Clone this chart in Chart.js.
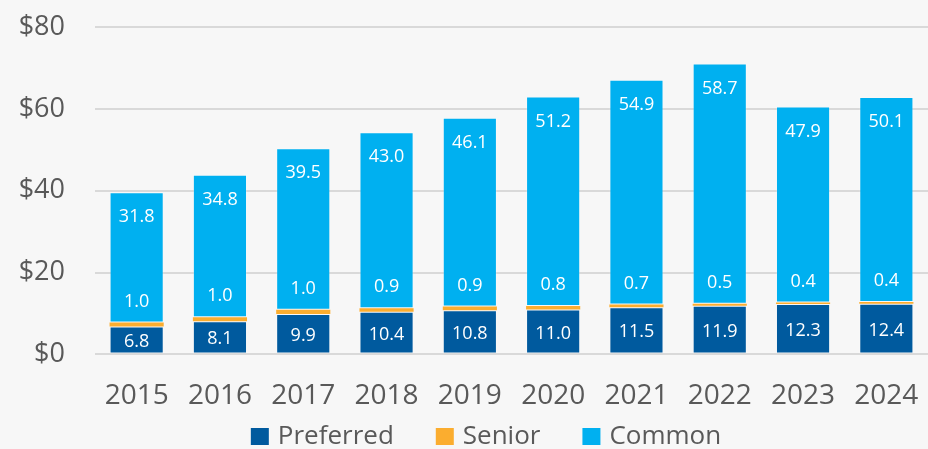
<!DOCTYPE html>
<html>
<head>
<meta charset="utf-8">
<script src="https://cdn.jsdelivr.net/npm/chart.js@4"></script>
<style>
  html, body { margin: 0; padding: 0; background: #f7f7f7; }
  #wrap { width: 928px; height: 449px; }
</style>
</head>
<body>
<div id="wrap"><canvas id="capChart"></canvas></div>
<script>
/* Capital stack by year */
const years = ['2015', '2016', '2017', '2018', '2019', '2020', '2021', '2022', '2023', '2024'];
const preferred = [6.8, 8.1, 9.9, 10.4, 10.8, 11.0, 11.5, 11.9, 12.3, 12.4];
const senior = [1.0, 1.0, 1.0, 0.9, 0.9, 0.8, 0.7, 0.5, 0.4, 0.4];
const common = [31.8, 34.8, 39.5, 43.0, 46.1, 51.2, 54.9, 58.7, 47.9, 50.1];
const yTicks = [0, 20, 40, 60, 80];

const FONT = "'Open Sans', 'Noto Sans', sans-serif";
const GREY = '#595959';

// value labels (no datalabels plugin available)
const barLabels = {
  id: 'barLabels',
  afterDatasetsDraw(chart) {
    const c = chart.ctx;
    c.save();
    c.font = '18px ' + FONT;
    c.fillStyle = '#ffffff';
    c.textAlign = 'center';
    c.textBaseline = 'middle';
    chart.data.datasets.forEach((ds, i) => {
      chart.getDatasetMeta(i).data.forEach((bar, j) => {
        let y;
        if (i === 0) y = (bar.y + bar.base) / 2 + 2;
        else if (i === 1) y = bar.y - 21;
        else y = bar.y + 25;
        c.fillText(ds.data[j].toFixed(1), bar.x, y);
      });
    });
    c.restore();
  }
};

// legend drawn by hand so spacing matches the original
const bottomLegend = {
  id: 'bottomLegend',
  afterDraw(chart) {
    const c = chart.ctx;
    const box = 18, gap = 9, between = 42, cy = 436;
    c.save();
    c.font = '26px ' + FONT;
    c.textBaseline = 'middle';
    const items = chart.data.datasets.map(d => ({ text: d.label, color: d.backgroundColor, w: c.measureText(d.label).width }));
    const total = items.reduce((s, it) => s + box + gap + it.w, 0) + between * (items.length - 1);
    let x = chart.width / 2 + 22 - total / 2;
    items.forEach(it => {
      c.fillStyle = it.color;
      c.fillRect(x, cy - 8, box, 17);
      c.fillStyle = GREY;
      c.fillText(it.text, x + box + gap, cy + 1);
      x += box + gap + it.w + between;
    });
    c.restore();
  }
};

const ctx = document.getElementById('capChart').getContext('2d');
new Chart(ctx, {
  type: 'bar',
  data: {
    labels: years,
    datasets: [
      { label: 'Preferred', data: preferred, backgroundColor: '#005a9e', borderWidth: 1 },
      { label: 'Senior', data: senior, backgroundColor: '#fbad2f', borderWidth: 0 },
      { label: 'Common', data: common, backgroundColor: '#00b0f0', borderWidth: 1 }
    ].map(d => Object.assign(d, {
      borderColor: 'rgba(255,255,255,0.22)',
      borderSkipped: false,
      categoryPercentage: 1,
      barPercentage: 0.65
    }))
  },
  options: {
    responsive: true,
    maintainAspectRatio: false,
    animation: false,
    layout: { padding: { top: 27, right: 0, left: 0, bottom: 11 } },
    plugins: {
      tooltip: { enabled: false },
      legend: { display: false }
    },
    scales: {
      x: {
        stacked: true,
        grid: { display: false, drawTicks: false },
        border: { display: false },
        afterFit: axis => { axis.paddingLeft = 0; axis.paddingRight = 0; },
        ticks: { font: { family: FONT, size: 28 }, color: GREY, padding: 25, maxRotation: 0, minRotation: 0 }
      },
      y: {
        stacked: true,
        min: 0,
        max: 80,
        afterBuildTicks: axis => { axis.ticks = yTicks.map(v => ({ value: v })); },
        afterFit: axis => { axis.width = 95; axis.paddingTop = 0; axis.paddingBottom = 0; },
        grid: { color: '#d9d9d9', lineWidth: 2, drawTicks: false },
        border: { display: false },
        ticks: {
          font: { family: FONT, size: 27 },
          color: GREY,
          padding: 30,
          callback: v => '$' + v
        }
      }
    }
  },
  plugins: [barLabels, bottomLegend]
});
</script>
</body>
</html>
